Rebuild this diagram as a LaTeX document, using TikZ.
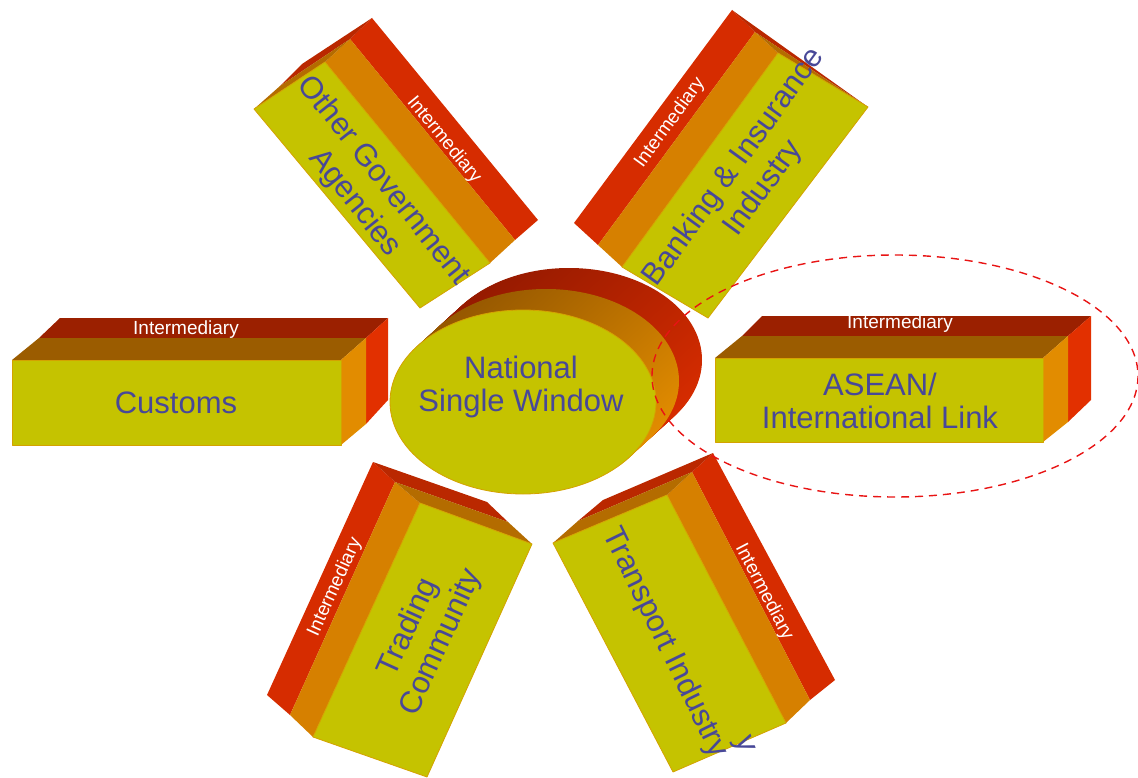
\documentclass[tikz,border=0pt]{standalone}
\usepackage{fontspec}
\setmainfont{Liberation Sans}
\usetikzlibrary{shapes.geometric}
\definecolor{fy}{RGB}{197,195,0}
\definecolor{fyline}{RGB}{212,162,0}
\definecolor{tb}{RGB}{72,72,152}
\definecolor{topin}{RGB}{155,92,0}
\definecolor{topout}{RGB}{155,32,0}
\definecolor{sidein}{RGB}{226,140,0}
\definecolor{sideout}{RGB}{226,48,0}
\definecolor{longin}{RGB}{214,128,0}
\definecolor{longout}{RGB}{214,44,0}
\definecolor{endin}{RGB}{180,108,0}
\definecolor{endout}{RGB}{186,40,0}
\definecolor{cylin}{RGB}{150,88,0}
\definecolor{cylout}{RGB}{150,26,0}
\definecolor{dashred}{RGB}{232,20,20}
\tikzset{
  frontface/.style={fill=fy, draw=fyline, line width=0.8pt, line join=round},
  lblh/.style={text=tb, font=\fontsize{31}{33}\selectfont, align=center, inner sep=0pt},
  lblr/.style={text=tb, font=\fontsize{31}{36}\selectfont, align=center, inner sep=0pt},
  imd/.style={text=white, font=\fontsize{19}{21}\selectfont, inner sep=0pt},
}
\begin{document}
\begin{tikzpicture}[x=1pt,y=-1pt]
\useasboundingbox (0,0) rectangle (1138,778);

% ---------- Customs ----------
\fill[topout] (39,338) -- (60,318) -- (388,318) -- (366,338) -- cycle;
\fill[sideout] (366,338) -- (388,318) -- (388,400) -- (366,424) -- cycle;
\fill[topin] (12,360) -- (39,338) -- (366,338) -- (341,360) -- cycle;
\fill[sidein] (341,360) -- (366,338) -- (366,424) -- (341,445) -- cycle;
\filldraw[frontface] (12,360) -- (341,360) -- (341,445) -- (12,445) -- cycle;
\node[lblh] (customs) at (176,403) {Customs};
\node[imd] (im1) at (186,330) {Intermediary};

% ---------- ASEAN ----------
\fill[topout] (742,336) -- (762,316) -- (1091,316) -- (1068,336) -- cycle;
\fill[sideout] (1068,336) -- (1091,316) -- (1091,400) -- (1068,422) -- cycle;
\fill[topin] (715,358) -- (742,336) -- (1068,336) -- (1043,358) -- cycle;
\fill[sidein] (1043,358) -- (1068,336) -- (1068,422) -- (1043,442) -- cycle;
\filldraw[frontface] (715,358) -- (1043,358) -- (1043,442) -- (715,442) -- cycle;
\node[lblh] (asean) at (880,401) {ASEAN/\\International Link};
\node[imd] (im2) at (900,324) {Intermediary};

% ---------- Other Government Agencies ----------
\fill[longout] (350,39) -- (372,18) -- (538,220) -- (515,240) -- cycle;
\fill[longin] (325,62) -- (350,39) -- (515,240) -- (490,263) -- cycle;
\fill[endout] (280,86) -- (302,64) -- (372,18) -- (350,39) -- cycle;
\fill[endin] (254,109) -- (280,86) -- (350,39) -- (325,62) -- cycle;
\filldraw[frontface] (254,109) -- (325,62) -- (490,263) -- (420,308) -- cycle;
\node[lblr, rotate=-51.5] (oga) at (369,192) {Other Government\\Agencies};
\node[imd, rotate=-50.5] (im3) at (444,140) {Intermediary};

% ---------- Banking & Insurance ----------
\fill[longout] (574,223) -- (732,10) -- (755,32) -- (598,245) -- cycle;
\fill[longin] (598,245) -- (755,32) -- (778,53) -- (622,267) -- cycle;
\fill[endout] (732,10) -- (868,107) -- (755,32) -- cycle;
\fill[endin] (755,32) -- (868,107) -- (778,53) -- cycle;
\filldraw[frontface] (622,267) -- (778,53) -- (868,107) -- (708,318) -- cycle;
\node[lblr, rotate=54] (bank) at (749,178) {Banking \& Insurance\\Industry};
\node[imd, rotate=54] (im4) at (670,123) {Intermediary};

% ---------- Trading Community ----------
\fill[longout] (267,695) -- (373,462) -- (395,482) -- (290,715) -- cycle;
\fill[longin] (290,715) -- (395,482) -- (420,503) -- (313,737) -- cycle;
\fill[endout] (395,482) -- (373,462) -- (487,502) -- (508,522) -- cycle;
\fill[endin] (420,503) -- (395,482) -- (508,522) -- (532,544) -- cycle;
\filldraw[frontface] (313,737) -- (420,503) -- (532,544) -- (427,777) -- cycle;
\node[lblr, rotate=65.5] (trade) at (425,635) {Trading\\Community};
\node[imd, rotate=65.5] (im5) at (335,587) {Intermediary};

% ---------- Transport Industry ----------
\fill[longout] (692,472) -- (713,453) -- (835,680) -- (810,700) -- cycle;
\fill[longin] (667,495) -- (692,472) -- (810,700) -- (786,723) -- cycle;
\fill[endout] (578,521) -- (603,500) -- (713,453) -- (692,472) -- cycle;
\fill[endin] (553,543) -- (578,521) -- (692,472) -- (667,495) -- cycle;
\filldraw[frontface] (553,543) -- (667,495) -- (786,723) -- (673,772) -- cycle;
\node[lblh, rotate=-64] (trans) at (665,643) {Transport Industry};
\node[lblh, rotate=-70] (ghost) at (743,745) {y};
\node[imd, rotate=-62.5] (im6) at (764,592) {Intermediary};

% ---------- National Single Window (cylinder) ----------
\foreach \i in {40,...,20} {
  \pgfmathsetmacro\t{\i/20}
  \shade[top color=cylout, bottom color=longout, shading angle=40] ({523+23*\t},{402-21*\t}) ellipse (133 and 92);
}
\foreach \i in {20,...,1} {
  \pgfmathsetmacro\t{\i/20}
  \shade[top color=cylin, bottom color=sidein, shading angle=40] ({523+23*\t},{402-21*\t}) ellipse (133 and 92);
}
\node[ellipse, fill=fy, draw=fyline, line width=0.8pt, minimum width=266pt, minimum height=184pt, inner sep=0pt] (nswface) at (523,402) {};
\node[lblh] (nsw) at (521,387) {National\\Single Window};

% ---------- dashed highlight ----------
\draw[dashred, line width=1.4pt, dash pattern=on 8pt off 6pt] (895,376) ellipse (243 and 121);
\end{tikzpicture}
\end{document}
